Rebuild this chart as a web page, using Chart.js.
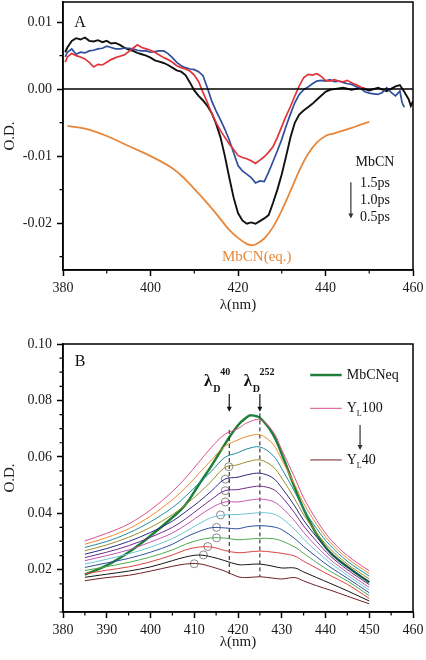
<!DOCTYPE html>
<html>
<head>
<meta charset="utf-8">
<script src="https://cdn.jsdelivr.net/npm/chart.js@4.4.1/dist/chart.umd.min.js"></script>
<style>
  body { margin: 0; background: #fff; }
  #wrapA { position: absolute; left: 0; top: 0; width: 426px; height: 320px; }
  #wrapB { position: absolute; left: 0; top: 320px; width: 426px; height: 340px; }
</style>
</head>
<body>
<div id="wrapA"><canvas id="chartA" width="426" height="320"></canvas></div>
<div id="wrapB"><canvas id="chartB" width="426" height="340"></canvas></div>
<script>
// ---- panel A: transient difference spectra ----
var wlBlack = [380.5,381,382,383,384,385,386,387,388,389,390,391,392,393,394,395,396,397,398,399,400,401,402,403,404,405,406,407,408,409,410,411,412,413,414,415,416,417,418,419,420,421,422,423,424,425,426,427,428,429,430,431,432,433,434,435,436,437,438,439,440,441,442,444,446,448,450,452,454,456,457,458,459,459.5,460];
var odBlack = [.0055,.0062,.0072,.0076,.0074,.0077,.0072,.0071,.0073,.0070,.0072,.0068,.0069,.0066,.0062,.0059,.0057,.0054,.0052,.0050,.0047,.0043,.0041,.0039,.0036,.0032,.0028,.0026,.0021,.0010,-.0002,-.0010,-.0017,-.0025,-.0036,-.0052,-.0072,-.0100,-.0132,-.0162,-.0185,-.0196,-.0201,-.0199,-.0201,-.0197,-.0193,-.0188,-.0170,-.0150,-.0127,-.0100,-.0072,-.0050,-.0038,-.0032,-.0027,-.0022,-.0016,-.0010,-.0004,-.0001,.0000,.0002,-.0001,.0002,-.0002,.0002,-.0003,.0004,.0006,-.0004,-.0015,-.0025,-.0018];

var wlBlue = [380.5,381,382,383,384,385,386,387,388,389,390,391,392,393,394,395,396,397,398,399,400,401,402,403,404,405,406,407,408,409,410,411,412,413,414,415,416,417,418,419,420,421,422,423,424,425,426,427,428,429,430,431,432,433,434,435,436,437,438,439,440,441,442,443,444,445,446,447,448,449,450,451,452,453,454,455,456,457,457.5,458];
var odBlue = [.0048,.0055,.0060,.0052,.0055,.0054,.0057,.0058,.0060,.0061,.0064,.0062,.0060,.0060,.0061,.0061,.0060,.0058,.0057,.0057,.0055,.0056,.0057,.0057,.0053,.0047,.0040,.0035,.0032,.0030,.0029,.0026,.0020,.0002,-.0018,-.0033,-.0046,-.0060,-.0076,-.0095,-.0114,-.0122,-.0127,-.0132,-.0140,-.0137,-.0138,-.0124,-.0108,-.0092,-.0075,-.0055,-.0037,-.0020,-.0008,-.0001,.0003,.0008,.0012,.0013,.0012,.0014,.0011,.0012,.0010,.0008,.0007,.0004,.0001,-.0004,-.0006,-.0007,-.0008,-.0005,.0002,-.0005,-.0010,-.0003,-.0020,-.0027];

var wlRed = [380.5,381,382,383,384,385,386,387,388,389,390,391,392,393,394,395,396,397,398,399,400,401,402,403,404,405,406,407,408,409,410,411,412,413,414,415,416,417,418,419,420,421,422,423,424,425,426,427,428,429,430,431,432,433,434,435,436,437,438,439,440,441,442,443,444,445,446,447,448,449];
var odRed = [.0040,.0048,.0053,.0050,.0048,.0045,.0040,.0033,.0037,.0036,.0040,.0044,.0047,.0049,.0051,.0056,.0061,.0066,.0062,.0060,.0058,.0055,.0051,.0047,.0044,.0040,.0035,.0032,.0030,.0027,.0021,.0011,-.0005,-.0020,-.0036,-.0050,-.0062,-.0072,-.0082,-.0090,-.0099,-.0102,-.0104,-.0107,-.0111,-.0106,-.0101,-.0094,-.0086,-.0072,-.0056,-.0040,-.0026,-.0010,.0005,.0017,.0022,.0021,.0023,.0019,.0013,.0012,.0014,.0012,.0011,.0013,.0009,.0007,.0003,.0001];

var wlEq = [381,385,390,395,400,405,408,410,412,414,416,418,420,422,423,424,426,428,430,432,434,436,438,440,442,444,446,448,450];
var odEq = [-.0055,-.0059,-.0070,-.0085,-.0100,-.0118,-.0135,-.0149,-.0163,-.0178,-.0194,-.0210,-.0222,-.0231,-.0233,-.0232,-.0223,-.0206,-.0181,-.0152,-.0122,-.0097,-.0080,-.0070,-.0066,-.0062,-.0058,-.0053,-.0049];

var wlZero = [380, 460];
var odZero = [0, 0];

var xTicksA = [380, 400, 420, 440, 460];
var xMinorA = [390, 410, 430, 450];
var yTicksA = [-0.02, -0.01, 0, 0.01];
var yMinorA = [-0.025, -0.015, -0.005, 0.005];

// ---- panel B: Y_L series ----
var wlB = [385,390,395,400,405,408,411,414,417,420,422,425,428,430,433,435,438,441,445,450];
var yL100 = [.0302,.0329,.0362,.0412,.0477,.0525,.0580,.0635,.0680,.0700,.0720,.0731,.0690,.0625,.0525,.0455,.0375,.0310,.0250,.0196];
var yL95  = [.0290,.0314,.0345,.0390,.0448,.0490,.0540,.0590,.0638,.0660,.0672,.0678,.0645,.0590,.0500,.0435,.0360,.0298,.0240,.0186];
var yL90  = [.0279,.0300,.0330,.0370,.0420,.0460,.0505,.0550,.0598,.0615,.0628,.0635,.0605,.0558,.0475,.0415,.0345,.0287,.0230,.0177];
var yL85  = [.0267,.0288,.0315,.0350,.0395,.0430,.0470,.0515,.0562,.0572,.0582,.0589,.0565,.0525,.0450,.0395,.0330,.0275,.0220,.0167];
var yL80  = [.0255,.0275,.0300,.0332,.0372,.0405,.0440,.0480,.0521,.0528,.0536,.0542,.0525,.0490,.0425,.0375,.0315,.0262,.0210,.0157];
var yL75  = [.0243,.0262,.0285,.0315,.0350,.0380,.0415,.0450,.0480,.0484,.0490,.0496,.0485,.0458,.0400,.0355,.0300,.0250,.0200,.0147];
var yL70  = [.0232,.0250,.0270,.0298,.0330,.0358,.0390,.0420,.0440,.0440,.0445,.0450,.0442,.0420,.0372,.0332,.0282,.0237,.0190,.0137];
var yL65  = [.0220,.0237,.0256,.0280,.0310,.0335,.0362,.0385,.0394,.0396,.0398,.0402,.0398,.0382,.0342,.0308,.0265,.0225,.0180,.0128];
var yL60  = [.0208,.0224,.0240,.0262,.0290,.0315,.0335,.0349,.0348,.0345,.0352,.0356,.0352,.0342,.0310,.0282,.0245,.0210,.0170,.0118];
var yL55  = [.0197,.0211,.0226,.0245,.0270,.0290,.0305,.0313,.0312,.0306,.0308,.0311,.0310,.0302,.0280,.0258,.0225,.0195,.0160,.0108];
var yL50  = [.0185,.0198,.0210,.0228,.0252,.0270,.0280,.0280,.0268,.0260,.0262,.0266,.0262,.0258,.0248,.0230,.0205,.0180,.0148,.0098];
var yL45  = [.0173,.0184,.0195,.0210,.0232,.0245,.0252,.0245,.0232,.0218,.0218,.0220,.0212,.0206,.0206,.0192,.0172,.0152,.0125,.0089];
var yL40  = [.0161,.0172,.0180,.0195,.0212,.0220,.0221,.0210,.0195,.0175,.0172,.0175,.0170,.0167,.0172,.0160,.0143,.0128,.0106,.0079];
var seriesB = [yL100, yL95, yL90, yL85, yL80, yL75, yL70, yL65, yL60, yL55, yL50, yL45, yL40];
var colorsB = ['#d9508f', '#ec8a2f', '#1d8c99', '#9c8d2c', '#2b2a7e', '#6e2a8a', '#c457b0', '#6cc6d0', '#2d4f9e', '#52a94f', '#d9433f', '#151515', '#6e1f22'];

var wlEqB = [385,390,395,400,405,408,411,414,417,420,422,423,425,428,430,433,435,438,441,445,450];
var odEqB = [.0183,.0215,.0262,.0320,.0385,.0430,.0500,.0570,.0645,.0712,.0740,.0747,.0738,.0680,.0610,.0490,.0415,.0325,.0262,.0210,.0155];

var peakX = [417.9, 417.1, 417.1, 417.1, 416.0, 415.1, 415.1, 413.1, 412.1, 410.0];
var peakY = [.0565, .0521, .0480, .0440, .0394, .0350, .0313, .0282, .0252, .0221];

var dash40X = [418, 418], dash40Y = [.0695, .0175];
var dash252X = [425, 425], dash252Y = [.0754, .0175];

var xTicksB = [380, 390, 400, 410, 420, 430, 440, 450, 460];
var xMinorB = [385, 395, 405, 415, 425, 435, 445, 455];
var yTicksB = [0.02, 0.04, 0.06, 0.08, 0.10];
var yMinorB = [0.005, 0.01, 0.015, 0.025, 0.03, 0.035, 0.045, 0.05, 0.055, 0.065, 0.07, 0.075, 0.085, 0.09, 0.095];

var serif = 'Liberation Serif';

function pairs(xs, ys) {
  return xs.map(function(x, i) { return { x: x, y: ys[i] }; });
}

function arrow(ctx, x, y1, y2, color) {
  ctx.save();
  ctx.strokeStyle = color; ctx.fillStyle = color; ctx.lineWidth = 1.2;
  ctx.beginPath(); ctx.moveTo(x, y1); ctx.lineTo(x, y2 - 4); ctx.stroke();
  ctx.beginPath(); ctx.moveTo(x - 2.5, y2 - 5); ctx.lineTo(x + 2.5, y2 - 5); ctx.lineTo(x, y2); ctx.closePath(); ctx.fill();
  ctx.restore();
}

function text(ctx, str, x, y, size, color, align, bold) {
  ctx.save();
  ctx.font = (bold ? 'bold ' : '') + size + 'px "' + serif + '"';
  ctx.fillStyle = color;
  ctx.textAlign = align || 'center';
  ctx.textBaseline = 'middle';
  ctx.fillText(str, x, y);
  ctx.restore();
}

// box round the plot plus the small minor ticks
var framePlugin = {
  id: 'frame',
  afterDraw: function(chart, args, opts) {
    var ctx = chart.ctx, a = chart.chartArea;
    var xs = chart.scales.x, ys = chart.scales.y;
    ctx.save();
    ctx.strokeStyle = '#000';
    ctx.lineWidth = 1.5;
    ctx.strokeRect(a.left, a.top, a.right - a.left, a.bottom - a.top);
    ctx.lineWidth = 1.2;
    ctx.beginPath();
    (opts.minorX || []).forEach(function(v) {
      var px = xs.getPixelForValue(v);
      ctx.moveTo(px, a.bottom); ctx.lineTo(px, a.bottom + 3.5);
    });
    (opts.minorY || []).forEach(function(v) {
      var py = ys.getPixelForValue(v);
      ctx.moveTo(a.left, py); ctx.lineTo(a.left - 3.5, py);
    });
    ctx.stroke();
    ctx.restore();
  }
};
Chart.register(framePlugin);

function noPad(s) {
  s.paddingTop = 0; s.paddingBottom = 0; s.paddingLeft = 0; s.paddingRight = 0;
}

function makeScales(xr, xTicks, yr, yTicks, xH, xTitlePad) {
  var tickFont = { family: serif, size: 14 };
  var titleFont = { family: serif, size: 15 };
  return {
    x: {
      type: 'linear', min: xr[0], max: xr[1],
      afterBuildTicks: function(s) { s.ticks = xTicks.map(function(v) { return { value: v }; }); },
      afterFit: function(s) { s.height = xH; noPad(s); },
      grid: { drawOnChartArea: false, drawTicks: true, tickLength: 6, tickColor: '#000', tickWidth: 1.5 },
      border: { display: true, color: '#000', width: 1.5 },
      ticks: { color: '#1a1a1a', font: tickFont, padding: 4, autoSkip: false, maxRotation: 0,
        callback: function(v) { return String(v); } },
      title: { display: true, text: 'λ(nm)', color: '#1a1a1a', font: titleFont, padding: { top: 0, bottom: xTitlePad } }
    },
    y: {
      type: 'linear', min: yr[0], max: yr[1],
      afterBuildTicks: function(s) { s.ticks = yTicks.map(function(v) { return { value: v }; }); },
      afterFit: function(s) { s.width = 63; noPad(s); },
      grid: { drawOnChartArea: false, drawTicks: true, tickLength: 6, tickColor: '#000', tickWidth: 1.5 },
      border: { display: true, color: '#000', width: 1.5 },
      ticks: { color: '#1a1a1a', font: tickFont, padding: 5, autoSkip: false,
        callback: function(v) { return Number(v).toFixed(2); } },
      title: { display: true, text: 'O.D.', color: '#1a1a1a', font: titleFont, padding: { top: 1, bottom: 0 } }
    }
  };
}

// ---- chart A ----
var labelsA = {
  id: 'labelsA',
  afterDraw: function(chart) {
    var ctx = chart.ctx, xs = chart.scales.x, ys = chart.scales.y;
    text(ctx, 'A', xs.getPixelForValue(383.9), ys.getPixelForValue(0.0099), 16, '#111');
    var mx = xs.getPixelForValue(451.3);
    text(ctx, 'MbCN', mx, ys.getPixelForValue(-0.0110), 14, '#111');
    text(ctx, '1.5ps', mx, ys.getPixelForValue(-0.0140), 14, '#111');
    text(ctx, '1.0ps', mx, ys.getPixelForValue(-0.0166), 14, '#111');
    text(ctx, '0.5ps', mx, ys.getPixelForValue(-0.0192), 14, '#111');
    arrow(ctx, xs.getPixelForValue(445.8), ys.getPixelForValue(-0.0139), ys.getPixelForValue(-0.0193), '#333');
    text(ctx, 'MbCN(eq.)', xs.getPixelForValue(424.3), ys.getPixelForValue(-0.0251), 15, '#e8873a');
  }
};

new Chart(document.getElementById('chartA'), {
  type: 'line',
  data: {
    datasets: [
      { data: pairs(wlZero, odZero), borderColor: '#000', borderWidth: 1.5, pointRadius: 0 },
      { data: pairs(wlEq, odEq), borderColor: '#e8873a', borderWidth: 1.8, pointRadius: 0, tension: 0.4 },
      { data: pairs(wlRed, odRed), borderColor: '#e0343a', borderWidth: 1.7, pointRadius: 0 },
      { data: pairs(wlBlue, odBlue), borderColor: '#2f4d9c', borderWidth: 1.7, pointRadius: 0 },
      { data: pairs(wlBlack, odBlack), borderColor: '#111', borderWidth: 1.9, pointRadius: 0 }
    ]
  },
  options: {
    responsive: false, animation: false, devicePixelRatio: 1,
    layout: { padding: { top: 2, right: 13, left: 0, bottom: 0 } },
    scales: makeScales([380, 460], xTicksA, [-0.027, 0.013], yTicksA, 50, 6),
    plugins: { legend: { display: false }, tooltip: { enabled: false },
      frame: { minorX: xMinorA, minorY: yMinorA } }
  },
  plugins: [labelsA]
});

// ---- chart B ----
var labelsB = {
  id: 'labelsB',
  afterDraw: function(chart) {
    var ctx = chart.ctx, xs = chart.scales.x, ys = chart.scales.y;
    text(ctx, 'B', xs.getPixelForValue(383.9), ys.getPixelForValue(0.0938), 16, '#111');

    // lambda_D markers
    var ly = ys.getPixelForValue(0.0867);
    [[418, '40', -21, -4], [425, '252', -12, 7]].forEach(function(m) {
      var ax = xs.getPixelForValue(m[0]);
      text(ctx, 'λ', ax + m[2], ly, 17, '#111', 'center', true);
      text(ctx, 'D', ax + m[2] + 8.5, ly + 8, 10, '#111', 'center', true);
      text(ctx, m[1], ax + m[3], ly - 9, 10, '#111', 'center', true);
      arrow(ctx, ax, ys.getPixelForValue(0.0823), ys.getPixelForValue(0.0760), '#111');
    });

    // legend block
    var lx1 = xs.getPixelForValue(436.5), lx2 = xs.getPixelForValue(443.7), tx = lx2 + 5;
    ctx.save();
    ctx.lineWidth = 2.5; ctx.strokeStyle = '#1e8038';
    var gy = ys.getPixelForValue(0.0890);
    ctx.beginPath(); ctx.moveTo(lx1, gy); ctx.lineTo(lx2, gy); ctx.stroke();
    ctx.lineWidth = 1;
    var py = ys.getPixelForValue(0.0772);
    ctx.strokeStyle = colorsB[0];
    ctx.beginPath(); ctx.moveTo(lx1, py); ctx.lineTo(lx2, py); ctx.stroke();
    var dy = ys.getPixelForValue(0.0589);
    ctx.strokeStyle = colorsB[12];
    ctx.beginPath(); ctx.moveTo(lx1, dy); ctx.lineTo(lx2, dy); ctx.stroke();
    ctx.restore();
    text(ctx, 'MbCNeq', tx, gy, 14, '#111', 'left');
    [[py, '100'], [dy, '40']].forEach(function(r) {
      text(ctx, 'Y', tx, r[0], 14, '#111', 'left');
      text(ctx, 'L', tx + 10, r[0] + 6, 8, '#111', 'left');
      text(ctx, r[1], tx + 15, r[0], 14, '#111', 'left');
    });
    arrow(ctx, xs.getPixelForValue(447.9), ys.getPixelForValue(0.0713), ys.getPixelForValue(0.0624), '#333');
  }
};

var dsB = seriesB.map(function(s, i) {
  return { data: pairs(wlB, s), borderColor: colorsB[i], borderWidth: 1, pointRadius: 0, tension: 0.35 };
});
dsB.push({ data: pairs(dash40X, dash40Y), borderColor: '#111', borderWidth: 1, borderDash: [4, 3], pointRadius: 0 });
dsB.push({ data: pairs(dash252X, dash252Y), borderColor: '#111', borderWidth: 1, borderDash: [4, 3], pointRadius: 0 });
dsB.push({ data: pairs(wlEqB, odEqB), borderColor: '#1e8038', borderWidth: 2.5, pointRadius: 0, tension: 0.4 });
dsB.push({ data: pairs(peakX, peakY), showLine: false, pointRadius: 4, pointBackgroundColor: '#fff',
  pointBorderColor: '#888', pointBorderWidth: 1 });

new Chart(document.getElementById('chartB'), {
  type: 'line',
  data: { datasets: dsB },
  options: {
    responsive: false, animation: false, devicePixelRatio: 1,
    layout: { padding: { top: 24, right: 13, left: 0, bottom: 0 } },
    scales: makeScales([380, 460], xTicksB, [0.005, 0.10], yTicksB, 48, 9),
    plugins: { legend: { display: false }, tooltip: { enabled: false },
      frame: { minorX: xMinorB, minorY: yMinorB } }
  },
  plugins: [labelsB]
});
</script>
</body>
</html>
